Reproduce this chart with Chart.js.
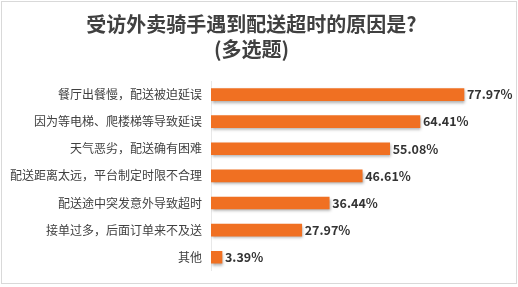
<!DOCTYPE html>
<html>
<head>
<meta charset="utf-8">
<script src="https://cdn.jsdelivr.net/npm/chart.js@4"></script>
<style>
    body { margin: 0; background: #fff; }
    #wrap { width: 518px; height: 287px; }
</style>
</head>
<body>
<div id="wrap"><canvas id="myChart" width="518" height="287"></canvas></div>
<script>
const titleLines = ['受访外卖骑手遇到配送超时的原因是?', '(多选题)'];
const reasons = [
    '餐厅出餐慢，配送被迫延误',
    '因为等电梯、爬楼梯等导致延误',
    '天气恶劣，配送确有困难',
    '配送距离太远，平台制定时限不合理',
    '配送途中突发意外导致超时',
    '接单过多，后面订单来不及送',
    '其他'
];
const shares = [77.97, 64.41, 55.08, 46.61, 36.44, 27.97, 3.39];

const fontFamily = '"Noto Sans CJK SC", "Noto Sans", sans-serif';

// frame around the whole picture
const framePlugin = {
    id: 'frame',
    beforeDraw(chart) {
        const ctx = chart.ctx;
        ctx.save();
        ctx.fillStyle = '#fff';
        ctx.fillRect(0, 0, chart.width, chart.height);
        ctx.strokeStyle = '#d9d9d9';
        ctx.lineWidth = 1;
        ctx.strokeRect(1.5, 1.5, chart.width - 3, chart.height - 5);
        ctx.restore();
    }
};

// soft shadow under the bars
const shadowPlugin = {
    id: 'barShadow',
    beforeDatasetsDraw(chart) {
        const ctx = chart.ctx;
        ctx.save();
        ctx.shadowColor = 'rgba(0, 0, 0, 0.35)';
        ctx.shadowBlur = 3;
        ctx.shadowOffsetX = 1;
        ctx.shadowOffsetY = 2;
    },
    afterDatasetsDraw(chart) {
        chart.ctx.restore();
    }
};

// percentage labels at the end of each bar
const valueLabels = {
    id: 'valueLabels',
    afterDatasetsDraw(chart) {
        const ctx = chart.ctx;
        const meta = chart.getDatasetMeta(0);
        ctx.save();
        ctx.font = 'bold 12.5px ' + fontFamily;
        ctx.fillStyle = '#333';
        ctx.textAlign = 'left';
        ctx.textBaseline = 'middle';
        meta.data.forEach((bar, i) => {
            ctx.fillText(shares[i].toFixed(2) + '%', bar.x + 3, bar.y);
        });
        ctx.restore();
    }
};

document.addEventListener('DOMContentLoaded', function () {
    let ctx = document.getElementById('myChart').getContext('2d');
    new Chart(ctx, {
        type: 'bar',
        data: {
            labels: reasons,
            datasets: [{
                data: shares,
                backgroundColor: '#f07022',
                barThickness: 12,
                borderWidth: 0
            }]
        },
        options: {
            indexAxis: 'y',
            responsive: false,
            animation: false,
            layout: {
                padding: { left: 0, right: 15, top: 0, bottom: 15 }
            },
            plugins: {
                legend: { display: false },
                tooltip: { enabled: false },
                title: {
                    display: true,
                    text: titleLines,
                    color: '#404040',
                    font: { family: fontFamily, size: 20, weight: 'bold', lineHeight: 1.25 },
                    padding: { top: 12, bottom: 19 }
                }
            },
            scales: {
                x: {
                    display: false,
                    min: 0,
                    max: 90
                },
                y: {
                    afterFit(scale) {
                        scale.width = 211;
                    },
                    grid: { display: false, drawTicks: false },
                    border: { display: true, color: '#e8e8e8', width: 1 },
                    ticks: {
                        color: '#404040',
                        padding: 9,
                        font: { family: fontFamily, size: 12 }
                    }
                }
            }
        },
        plugins: [framePlugin, shadowPlugin, valueLabels]
    });
});
</script>
</body>
</html>
